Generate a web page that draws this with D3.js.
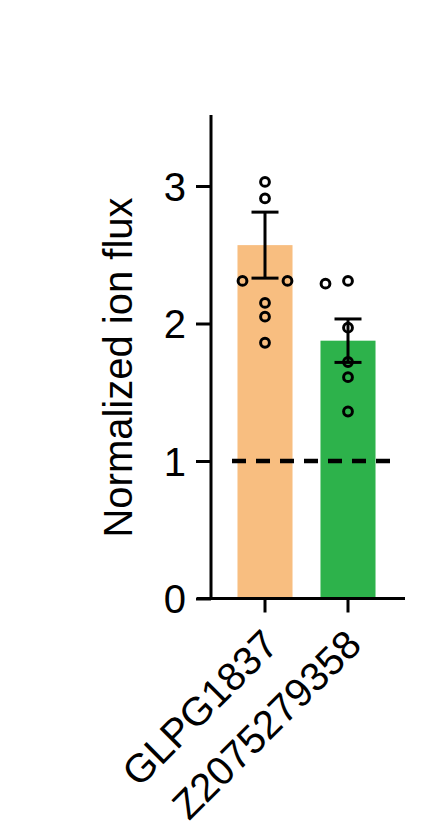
<!DOCTYPE html>
<html>
<head>
<meta charset="utf-8">
<script src="https://cdn.jsdelivr.net/npm/d3@7"></script>
<style>
  html, body { margin: 0; padding: 0; background: #fff; }
  svg { display: block; }
  text { font-family: "Liberation Sans", Arial, Helvetica, sans-serif; fill: #000; }
</style>
</head>
<body>
<svg id="chart" width="446" height="836"></svg>
<script>
// ---- data ----
const categories = ["GLPG1837", "Z2075279358"];
const means = [2.57, 1.875];
const sems = [0.24, 0.158];
const pointsGLPG = [3.03, 2.91, 2.31, 2.31, 2.15, 2.05, 1.86];
const jitterGLPG = [0, 0, -1, 1, 0, 0, 0];
const pointsZ = [2.29, 2.31, 1.97, 1.72, 1.61, 1.36];
const jitterZ = [-1, 0, 0, 0, 0, 0];
const yTicks = [0, 1, 2, 3];
const yLabel = "Normalized ion flux";
const referenceLevel = 1;
const barColors = ["#F8BE80", "#2DB24B"];

// ---- layout ----
const svg = d3.select("#chart");
const x = d3.scaleBand().domain(categories).range([223.5, 389.5]).paddingInner(0.337).paddingOuter(0.1685);
const y = d3.scaleLinear().domain([0, 3.5]).range([598.5, 117.25]);
const axisX = 211;
const xAxisStart = 197, xAxisEnd = 405;
const jitterStep = 22.5;
const lw = 3;

const series = [pointsGLPG, pointsZ];
const jitters = [jitterGLPG, jitterZ];

// bars
svg.append("g").selectAll("rect").data(categories).join("rect")
  .attr("x", d => x(d))
  .attr("width", x.bandwidth())
  .attr("y", (d, i) => y(means[i]))
  .attr("height", (d, i) => y(0) - y(means[i]))
  .attr("fill", (d, i) => barColors[i]);

// dashed reference line
svg.append("line")
  .attr("x1", 232).attr("x2", 392)
  .attr("y1", y(referenceLevel)).attr("y2", y(referenceLevel))
  .attr("stroke", "#000").attr("stroke-width", 4.5)
  .attr("stroke-dasharray", "14,10");

// points
categories.forEach((c, i) => {
  const cx = x(c) + x.bandwidth() / 2;
  svg.append("g").selectAll("circle").data(series[i]).join("circle")
    .attr("cx", (d, j) => cx + jitters[i][j] * jitterStep)
    .attr("cy", d => y(d))
    .attr("r", 4.4)
    .attr("fill", "none")
    .attr("stroke", "#000")
    .attr("stroke-width", 3);
});

// error bars
categories.forEach((c, i) => {
  const cx = x(c) + x.bandwidth() / 2;
  const g = svg.append("g").attr("stroke", "#000").attr("stroke-width", lw);
  g.append("line").attr("x1", cx).attr("x2", cx)
    .attr("y1", y(means[i] + sems[i])).attr("y2", y(means[i] - sems[i]));
  [means[i] + sems[i], means[i] - sems[i]].forEach(v => {
    g.append("line").attr("x1", cx - 13.5).attr("x2", cx + 13.5)
      .attr("y1", y(v)).attr("y2", y(v));
  });
});

// y axis
const yAxis = svg.append("g").attr("transform", `translate(${axisX},0)`)
  .call(d3.axisLeft(y).tickValues(yTicks).tickFormat(d3.format("d")).tickSize(15).tickSizeOuter(0).tickPadding(10));
yAxis.select(".domain").attr("stroke-width", lw).attr("d", `M0,${y(0)}V${115}`);
yAxis.selectAll(".tick line").attr("stroke-width", lw);
yAxis.selectAll(".tick text").attr("font-size", 40)
  .attr("font-family", '"Liberation Sans", Arial, sans-serif').attr("dy", "0.36em");

// x axis
const xAxis = svg.append("g").attr("transform", `translate(0,${y(0)})`)
  .call(d3.axisBottom(x).tickSize(14).tickSizeOuter(0).tickFormat(""));
xAxis.select(".domain").remove();
xAxis.selectAll(".tick line").attr("stroke-width", lw);
xAxis.append("line").attr("x1", xAxisStart).attr("x2", xAxisEnd)
  .attr("y1", 0).attr("y2", 0).attr("stroke", "#000").attr("stroke-width", lw);

// rotated category labels
svg.append("g").selectAll("text").data(categories).join("text")
  .attr("transform", d => `translate(${x(d) + x.bandwidth() / 2 + 15.5},${y(0) + 48.5}) rotate(-45)`)
  .attr("text-anchor", "end")
  .attr("font-size", 40)
  .text(d => d);

// y label
svg.append("text")
  .attr("transform", `translate(132,367.5) rotate(-90)`)
  .attr("text-anchor", "middle")
  .attr("font-size", 40)
  .text(yLabel);
</script>
</body>
</html>
